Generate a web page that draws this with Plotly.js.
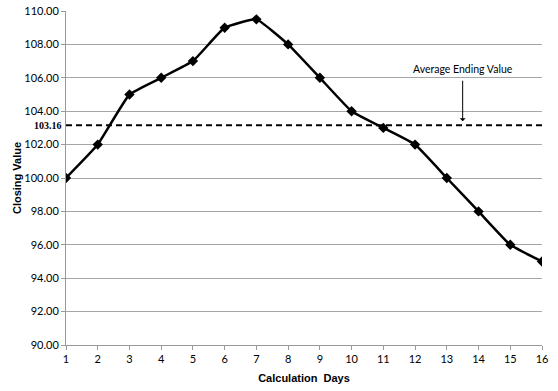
<!DOCTYPE html>
<html><head><meta charset="utf-8">
<script src="https://cdn.plot.ly/plotly-3.0.1.min.js"></script>
<style>html,body{margin:0;padding:0;background:#fff}#chart{width:558px;height:391px}</style>
</head><body><div id="chart"></div>
<script>
const days = [1,2,3,4,5,6,7,8,9,10,11,12,13,14,15,16];
const closingValues = [100,102,105,106,107,109,109.5,108,106,104,103,102,100,98,96,95];
const averageValue = 103.16;
const annotationText = "Average Ending Value";
const annotationX = 13.5;

const traces = [
  {x:[1,16], y:[averageValue,averageValue], mode:'lines', line:{color:'#000', width:2, dash:'6px,4px'}, hoverinfo:'skip', showlegend:false},
  {x:days, y:closingValues, mode:'lines+markers', line:{color:'#000', width:2.5, shape:'spline', smoothing:0.35},
   marker:{symbol:'diamond', size:8, color:'#000'}, showlegend:false}
];

const layout = {
  width:558, height:391,
  margin:{l:66, r:16, t:11, b:46},
  paper_bgcolor:'#fff', plot_bgcolor:'#fff',
  showlegend:false,
  font:{family:'Lato, "Open Sans", sans-serif', size:11, color:'#000'},
  xaxis:{range:[1,16], tickvals:days, ticktext:days.map(String), showgrid:false, zeroline:false,
    showline:true, linecolor:'#999', linewidth:1, ticks:'outside', ticklen:4, tickcolor:'#999',
    tickfont:{size:11},
    title:{text:'Calculation  Days', font:{family:'"Liberation Sans", Arial, sans-serif', size:11, weight:'bold'}, standoff:10}},
  yaxis:{range:[90,110], dtick:2, tick0:90, tickformat:'.2f', showgrid:true, gridcolor:'#a6a6a6', gridwidth:1,
    zeroline:false, showline:true, linecolor:'#999', linewidth:1, ticks:'outside', ticklen:4, tickcolor:'#999',
    tickfont:{size:11},
    title:{text:'Closing Value', font:{family:'"Liberation Sans", Arial, sans-serif', size:11, weight:'bold'}, standoff:0}},
  annotations:[
    {x:0, xref:'paper', y:averageValue, yref:'y', text:averageValue.toFixed(2), showarrow:false, xanchor:'right', xshift:-2,
      font:{family:'"Liberation Serif", serif', size:10, weight:'bold'}},
    {x:annotationX, y:averageValue, xref:'x', yref:'y', text:annotationText, showarrow:false, yanchor:'bottom', yshift:48,
      font:{size:10.5}},
    {x:annotationX, y:averageValue, xref:'x', yref:'y', text:'', showarrow:true, arrowhead:1, arrowsize:1, arrowwidth:1,
      arrowcolor:'#000', ax:0, ay:-46, standoff:4}
  ]
};
Plotly.newPlot('chart', traces, layout, {displayModeBar:false, staticPlot:true});
</script></body></html>
